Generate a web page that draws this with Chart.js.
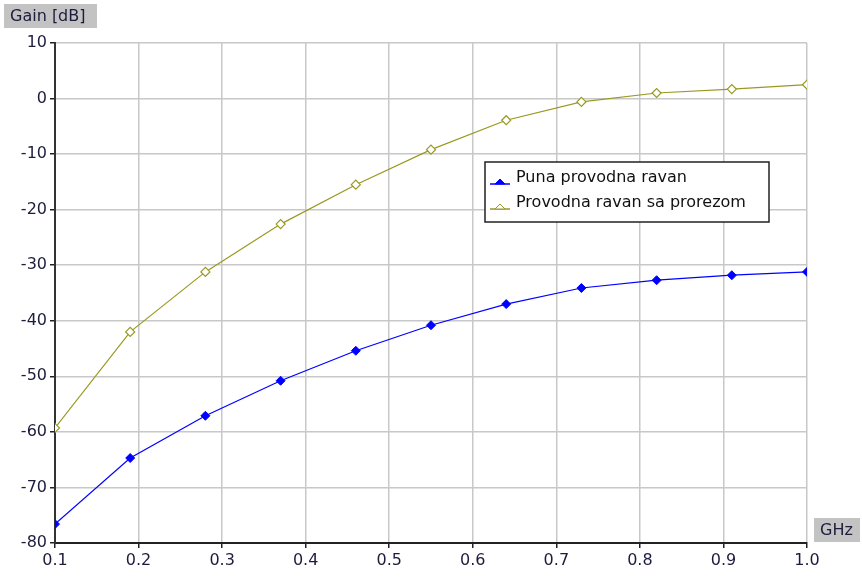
<!DOCTYPE html>
<html><head><meta charset="utf-8">
<script src="https://cdn.jsdelivr.net/npm/chart.js@4/dist/chart.umd.min.js"></script>
<style>html,body{margin:0;padding:0;background:#fff}#wrap{width:862px;height:581px;position:relative}</style>
</head><body><div id="wrap"><canvas id="c" width="862" height="581"></canvas></div>
<script>
const freqs = [0.1, 0.19, 0.28, 0.37, 0.46, 0.55, 0.64, 0.73, 0.82, 0.91, 1.0];
const puna = [-76.6, -64.7, -57.1, -50.8, -45.4, -40.8, -37.0, -34.1, -32.7, -31.8, -31.2];
const prorez = [-59.3, -42.0, -31.2, -22.6, -15.5, -9.2, -3.9, -0.6, 1.0, 1.7, 2.5];
const seriesNames = ["Puna provodna ravan", "Provodna ravan sa prorezom"];
const xTicks = [0.1, 0.2, 0.3, 0.4, 0.5, 0.6, 0.7, 0.8, 0.9, 1.0];
const yTitle = "Gain [dB]";
const xTitle = "GHz";

const FONT = "'DejaVu Sans', Verdana, sans-serif";
const BLUE = "#0000ff", OLIVE = "#999922";
const TXT = "#1c1c3c";

const overlay = {
  id: 'overlay',
  afterDraw(chart) {
    const ctx = chart.ctx;
    ctx.save();
    ctx.font = "16px " + FONT;
    ctx.textBaseline = "middle";
    ctx.textAlign = "left";
    // y title box
    ctx.fillStyle = "#c3c3c3";
    ctx.fillRect(4, 4, 93, 24);
    ctx.fillStyle = TXT;
    ctx.fillText(yTitle, 10, 16.5);
    // x title box
    ctx.fillStyle = "#c3c3c3";
    ctx.fillRect(814, 518, 46, 24);
    ctx.fillStyle = TXT;
    ctx.fillText(xTitle, 820, 530.5);
    // legend
    const lx = 485, ly = 162, lw = 284, lh = 60;
    ctx.fillStyle = "#fff";
    ctx.fillRect(lx, ly, lw, lh);
    ctx.strokeStyle = "#222";
    ctx.lineWidth = 1.5;
    ctx.strokeRect(lx, ly, lw, lh);
    chart.data.datasets.forEach((d, i) => {
      const yy = ly + 16 + i * 25;
      const my = yy + 6;
      ctx.strokeStyle = d.borderColor;
      ctx.lineWidth = 1.5;
      ctx.beginPath(); ctx.moveTo(lx + 5, my); ctx.lineTo(lx + 25, my); ctx.stroke();
      ctx.beginPath();
      ctx.moveTo(lx + 10, my); ctx.lineTo(lx + 15, my - 5); ctx.lineTo(lx + 20, my);
      ctx.closePath();
      ctx.fillStyle = d.pointBackgroundColor;
      ctx.fill(); ctx.lineWidth = 1; ctx.stroke();
      ctx.fillStyle = "#111";
      ctx.font = "16px " + FONT;
      ctx.fillText(d.label, lx + 31, yy);
    });
    ctx.restore();
  }
};

new Chart(document.getElementById('c'), {
  type: 'line',
  data: {
    datasets: [
      { label: seriesNames[0], data: freqs.map((x, i) => ({x, y: puna[i]})),
        borderColor: BLUE, backgroundColor: BLUE, pointBackgroundColor: BLUE, pointBorderColor: BLUE,
        borderWidth: 1.2, pointStyle: 'rectRot', pointRadius: 4.5, pointBorderWidth: 1, tension: 0 },
      { label: seriesNames[1], data: freqs.map((x, i) => ({x, y: prorez[i]})),
        borderColor: OLIVE, backgroundColor: OLIVE, pointBackgroundColor: "#ffffff", pointBorderColor: OLIVE,
        borderWidth: 1.2, pointStyle: 'rectRot', pointRadius: 4.5, pointBorderWidth: 1.2, tension: 0 }
    ]
  },
  options: {
    responsive: false, animation: false, devicePixelRatio: 1,
    layout: { padding: { left: 0, right: 55, top: 43, bottom: 0 } },
    plugins: { legend: { display: false }, tooltip: { enabled: false } },
    scales: {
      x: {
        type: 'linear', min: 0.1, max: 1.0,
        afterBuildTicks(s) { s.ticks = xTicks.map(v => ({value: v})); },
        afterFit(s) { s.height = 38; },
        grid: { color: "#c8c8c8", lineWidth: 1.5, drawTicks: true, tickLength: 5, tickColor: "#222" },
        border: { color: "#222", width: 2 },
        ticks: { color: TXT, font: { family: FONT, size: 16 }, padding: 3, maxRotation: 0,
          callback: v => v.toFixed(1) }
      },
      y: {
        type: 'linear', min: -80, max: 10,
        afterFit(s) { s.width = 55; },
        grid: { color: "#c8c8c8", lineWidth: 1.5, drawTicks: true, tickLength: 5, tickColor: "#222" },
        border: { color: "#333", width: 2 },
        ticks: { stepSize: 10, color: TXT, font: { family: FONT, size: 16 }, padding: 3 }
      }
    }
  },
  plugins: [overlay]
});
</script></body></html>
